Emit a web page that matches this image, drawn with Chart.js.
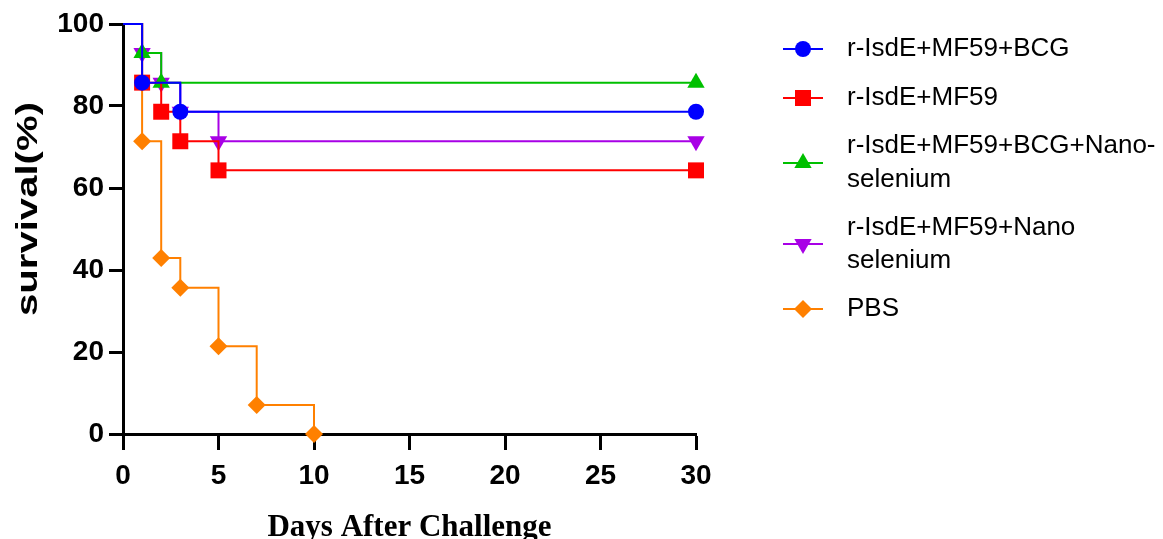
<!DOCTYPE html>
<html>
<head>
<meta charset="utf-8">
<script src="https://cdn.jsdelivr.net/npm/chart.js@4.4.1/dist/chart.umd.min.js"></script>
<style>
    body { margin: 0; background: #fff; }
    #wrap { width: 1163px; height: 539px; position: relative; }
</style>
</head>
<body>
<div id="wrap"><canvas id="survivalChart"></canvas></div>
<script>
// survival (%) per group
const groupLabels = [
    ['r-IsdE+MF59+BCG'],
    ['r-IsdE+MF59'],
    ['r-IsdE+MF59+BCG+Nano-', 'selenium'],
    ['r-IsdE+MF59+Nano', 'selenium'],
    ['PBS']
];
const bcgDays = [0, 1, 3, 30];
const bcgSurvival = [100, 85.7, 78.6, 78.6];
const mf59Days = [0, 1, 2, 3, 5, 30];
const mf59Survival = [100, 85.7, 78.6, 71.4, 64.3, 64.3];
const bcgNanoDays = [0, 1, 2, 30];
const bcgNanoSurvival = [100, 92.9, 85.7, 85.7];
const nanoDays = [0, 1, 2, 3, 5, 30];
const nanoSurvival = [100, 92.9, 85.7, 78.6, 71.4, 71.4];
const pbsDays = [0, 1, 2, 3, 5, 7, 10];
const pbsSurvival = [100, 71.4, 42.9, 35.7, 21.4, 7.1, 0];
const yTicks = [0, 20, 40, 60, 80, 100];
const xTicks = [0, 5, 10, 15, 20, 25, 30];

const FONT = '"Liberation Sans", Arial, sans-serif';

const styles = [
    { color: '#0000ff', pointStyle: 'circle', radius: 8, rotation: 0 },
    { color: '#ff0000', pointStyle: 'rect', radius: 11.3, rotation: 0 },
    { color: '#00c000', pointStyle: 'triangle', radius: 10, rotation: 0 },
    { color: '#a800e6', pointStyle: 'triangle', radius: 10, rotation: 180 },
    { color: '#ff8000', pointStyle: 'rectRot', radius: 9, rotation: 0 }
];

function toPoints(days, values) {
    return days.map((d, i) => ({ x: d, y: values[i] }));
}

const series = [
    toPoints(bcgDays, bcgSurvival),
    toPoints(mf59Days, mf59Survival),
    toPoints(bcgNanoDays, bcgNanoSurvival),
    toPoints(nanoDays, nanoSurvival),
    toPoints(pbsDays, pbsSurvival)
];

const datasets = series.map((pts, i) => ({
    label: groupLabels[i].join(' '),
    data: pts,
    showLine: true,
    stepped: 'before',
    borderColor: styles[i].color,
    backgroundColor: styles[i].color,
    borderWidth: 2,
    pointStyle: styles[i].pointStyle,
    pointRotation: styles[i].rotation,
    pointRadius: ctx => ctx.dataIndex === 0 ? 0 : styles[i].radius,
    pointBorderWidth: 0,
    clip: false
}));

// legend rows: marker centre y and text line centres
const legendRows = [
    { y: 49, textY: [49] },
    { y: 98, textY: [98] },
    { y: 163, textY: [146, 180] },
    { y: 244, textY: [228, 261] },
    { y: 309, textY: [309] }
];

const extrasPlugin = {
    id: 'extras',
    afterDraw(chart) {
        const ctx = chart.ctx;
        const area = chart.chartArea;
        ctx.save();

        // y title, stretched along its length like the original
        ctx.fillStyle = '#000';
        ctx.font = 'bold 30px ' + FONT;
        ctx.textAlign = 'center';
        ctx.textBaseline = 'middle';
        const w = ctx.measureText('survival(%)').width;
        ctx.translate(29, 209);
        ctx.rotate(-Math.PI / 2);
        ctx.scale(214 / w, 1);
        ctx.fillText('survival(%)', 0, 0);
        ctx.setTransform(1, 0, 0, 1, 0, 0);

        // x title
        ctx.font = 'bold 31px "Liberation Serif", "Times New Roman", serif';
        ctx.textBaseline = 'alphabetic';
        ctx.fillText('Days After Challenge', (area.left + area.right) / 2, 536);

        // legend
        ctx.textAlign = 'left';
        ctx.textBaseline = 'middle';
        ctx.font = '26px ' + FONT;
        legendRows.forEach((row, i) => {
            const st = styles[i];
            ctx.strokeStyle = st.color;
            ctx.lineWidth = 2;
            ctx.beginPath();
            ctx.moveTo(783, row.y);
            ctx.lineTo(823, row.y);
            ctx.stroke();
            ctx.fillStyle = st.color;
            Chart.helpers.drawPoint(ctx, {
                pointStyle: st.pointStyle,
                radius: st.radius,
                rotation: st.rotation,
                borderWidth: 0
            }, 803, row.y);
            ctx.fillStyle = '#000';
            groupLabels[i].forEach((line, j) => {
                ctx.fillText(line, 847, row.textY[j]);
            });
        });
        ctx.restore();
    }
};

new Chart(document.getElementById('survivalChart'), {
    type: 'scatter',
    data: { datasets: datasets },
    options: {
        responsive: true,
        maintainAspectRatio: false,
        animation: false,
        events: [],
        layout: { padding: { left: 0, right: 467, top: 24, bottom: 0 } },
        plugins: {
            legend: { display: false },
            tooltip: { enabled: false }
        },
        scales: {
            x: {
                type: 'linear',
                min: 0,
                max: 30,
                afterFit: scale => { scale.height = 105; },
                afterBuildTicks: scale => { scale.ticks = xTicks.map(v => ({ value: v })); },
                grid: { drawOnChartArea: false, tickLength: 16, tickWidth: 3, tickColor: '#000' },
                border: { width: 3, color: '#000' },
                ticks: {
                    color: '#000',
                    padding: 9,
                    maxRotation: 0,
                    font: { family: FONT, size: 28, weight: 'bold' }
                }
            },
            y: {
                min: 0,
                max: 100,
                afterFit: scale => { scale.width = 123; },
                afterBuildTicks: scale => { scale.ticks = yTicks.map(v => ({ value: v })); },
                grid: { drawOnChartArea: false, tickLength: 14, tickWidth: 3, tickColor: '#000' },
                border: { width: 3, color: '#000' },
                ticks: {
                    color: '#000',
                    padding: 5,
                    font: { family: FONT, size: 28, weight: 'bold' }
                }
            }
        }
    },
    plugins: [extrasPlugin]
});
</script>
</body>
</html>
